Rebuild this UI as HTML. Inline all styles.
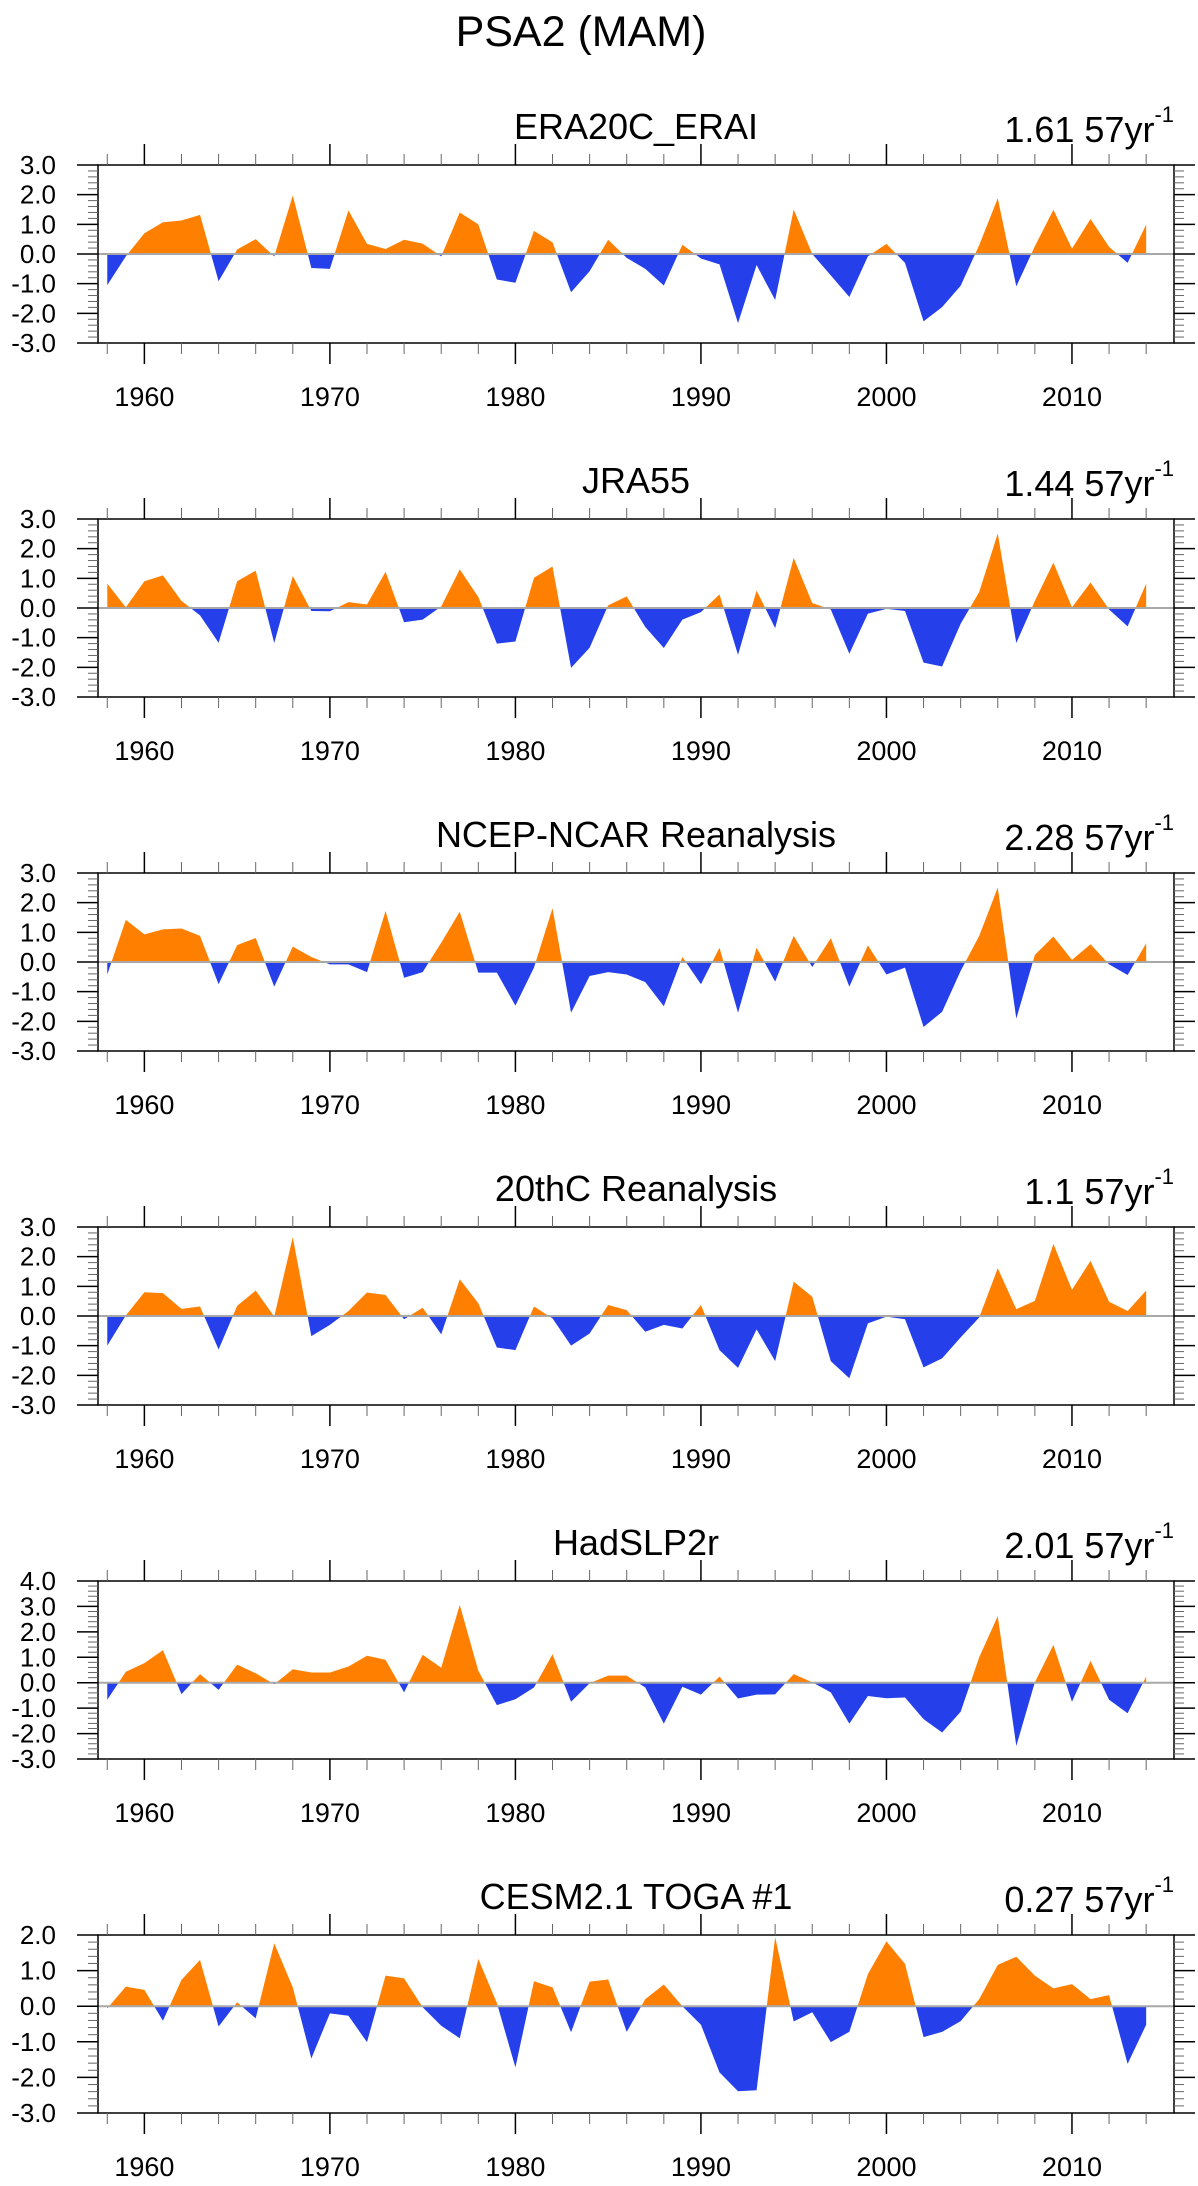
<!DOCTYPE html>
<html><head><meta charset="utf-8">
<style>
html,body{margin:0;padding:0;background:#fff;}
svg{display:block;font-family:"Liberation Sans",sans-serif;}
</style></head>
<body>
<svg id="chart" width="1198" height="2186" viewBox="0 0 1198 2186" xmlns="http://www.w3.org/2000/svg">
<text x="581" y="46" font-size="43" text-anchor="middle">PSA2 (MAM)</text>
</svg>
<script>
const years = [];
for (let y = 1958; y <= 2014; y++) years.push(y);
const panelTitles = ["ERA20C_ERAI","JRA55","NCEP-NCAR Reanalysis","20thC Reanalysis","HadSLP2r","CESM2.1 TOGA #1"];
const panelStats = ["1.61 57yr","1.44 57yr","2.28 57yr","1.1 57yr","2.01 57yr","0.27 57yr"];
const yMins = [-3,-3,-3,-3,-3,-3];
const yMaxs = [3,3,3,3,4,2];
const xTickYears = [1960,1970,1980,1990,2000,2010];
const era20c = [-1.05,-0.08,0.7,1.07,1.13,1.32,-0.92,0.15,0.5,-0.08,1.97,-0.47,-0.5,1.47,0.34,0.17,0.48,0.35,-0.08,1.4,1.0,-0.86,-0.97,0.78,0.39,-1.29,-0.58,0.48,-0.13,-0.5,-1.06,0.31,-0.15,-0.35,-2.33,-0.37,-1.55,1.5,0.0,-0.72,-1.45,-0.08,0.34,-0.3,-2.27,-1.79,-1.07,0.3,1.88,-1.09,0.26,1.49,0.18,1.18,0.24,-0.3,0.99];
const jra55 = [0.82,0.02,0.9,1.1,0.24,-0.25,-1.17,0.9,1.26,-1.18,1.08,-0.1,-0.11,0.2,0.12,1.22,-0.48,-0.39,0.05,1.3,0.37,-1.2,-1.13,1.02,1.4,-2.02,-1.34,0.09,0.39,-0.64,-1.35,-0.39,-0.14,0.46,-1.58,0.59,-0.68,1.69,0.17,-0.05,-1.54,-0.19,-0.03,-0.1,-1.84,-1.97,-0.53,0.54,2.51,-1.18,0.24,1.53,0.02,0.86,-0.05,-0.62,0.82];
const ncep = [-0.42,1.42,0.93,1.1,1.13,0.88,-0.75,0.57,0.81,-0.83,0.52,0.17,-0.08,-0.08,-0.34,1.72,-0.53,-0.34,0.65,1.7,-0.36,-0.36,-1.47,-0.19,1.81,-1.71,-0.47,-0.34,-0.42,-0.68,-1.49,0.17,-0.75,0.48,-1.71,0.48,-0.66,0.88,-0.17,0.8,-0.83,0.56,-0.42,-0.19,-2.19,-1.68,-0.3,0.88,2.51,-1.91,0.24,0.86,0.07,0.6,-0.08,-0.44,0.63];
const c20 = [-1.0,0.02,0.8,0.77,0.24,0.32,-1.13,0.34,0.86,-0.02,2.66,-0.68,-0.3,0.17,0.79,0.71,-0.11,0.28,-0.62,1.24,0.43,-1.06,-1.15,0.32,-0.08,-1.0,-0.59,0.37,0.2,-0.53,-0.3,-0.42,0.37,-1.15,-1.75,-0.45,-1.52,1.16,0.65,-1.52,-2.1,-0.25,-0.02,-0.11,-1.73,-1.43,-0.72,-0.05,1.61,0.23,0.51,2.43,0.88,1.86,0.48,0.17,0.86];
const hadslp = [-0.67,0.43,0.77,1.28,-0.45,0.34,-0.28,0.71,0.37,-0.06,0.53,0.4,0.4,0.64,1.06,0.9,-0.38,1.1,0.59,3.06,0.47,-0.88,-0.65,-0.19,1.12,-0.75,-0.02,0.28,0.28,-0.19,-1.61,-0.16,-0.47,0.24,-0.62,-0.47,-0.46,0.34,0.02,-0.38,-1.61,-0.52,-0.61,-0.58,-1.43,-1.96,-1.14,1.0,2.62,-2.49,0.02,1.49,-0.75,0.86,-0.67,-1.2,0.24];
const cesm = [-0.06,0.55,0.46,-0.41,0.74,1.3,-0.57,0.11,-0.34,1.77,0.53,-1.47,-0.2,-0.27,-1.01,0.86,0.78,-0.03,-0.55,-0.9,1.33,0.09,-1.72,0.7,0.53,-0.73,0.69,0.75,-0.72,0.2,0.61,0.0,-0.52,-1.86,-2.39,-2.36,1.94,-0.43,-0.17,-1.01,-0.72,0.9,1.82,1.19,-0.87,-0.72,-0.42,0.2,1.16,1.39,0.86,0.5,0.62,0.2,0.31,-1.62,-0.52];
const seriesList = [era20c, jra55, ncep, c20, hadslp, cesm];

const NS = "http://www.w3.org/2000/svg";
const svg = document.getElementById("chart");
const FL = 98, FW = 1076, FH = 178, TOP0 = 165, STEP = 354;
const X0 = 1957.5, X1 = 2015.5;
function el(tag, attrs, parent) {
  const e = document.createElementNS(NS, tag);
  for (const k in attrs) e.setAttribute(k, attrs[k]);
  (parent || svg).appendChild(e);
  return e;
}
function xs(yr) { return FL + (yr - X0) / (X1 - X0) * FW; }

seriesList.forEach((vals, p) => {
  const T = TOP0 + p * STEP;
  const ymin = yMins[p], ymax = yMaxs[p];
  const ys = v => T + (ymax - v) / (ymax - ymin) * FH;
  const g = el("g", {});
  
  
  const z = ys(0);
  const cpA = el("clipPath", {id: "ca" + p}, g);
  el("rect", {x: FL, y: T, width: FW, height: z - T}, cpA);
  const cpB = el("clipPath", {id: "cb" + p}, g);
  el("rect", {x: FL, y: z, width: FW, height: T + FH - z}, cpB);
  let d = "M" + xs(years[0]) + "," + z;
  vals.forEach((v, i) => { d += " L" + xs(years[i]).toFixed(2) + "," + ys(v).toFixed(2); });
  d += " L" + xs(years[years.length - 1]) + "," + z + " Z";
  const pos = el("path", {d: d, fill: "#ff8000", "clip-path": "url(#ca" + p + ")"}, g);
  
  
  const neg = el("path", {d: d, fill: "#2540ea", "clip-path": "url(#cb" + p + ")"}, g);
  
  
  const zl = el("line", {x1: FL, x2: FL + FW, y1: z, y2: z, stroke: "#a8a8a8", "stroke-width": 2}, g);
  
  
  const fr = el("rect", {x: FL, y: T, width: FW, height: FH, fill: "none", stroke: "#000", "stroke-width": 1.5}, g);
  
  
  for (let k = Math.round(ymin * 5); k <= Math.round(ymax * 5); k++) {
    const v = k / 5, y = ys(v), major = (k % 5 === 0);
    const L = major ? 21 : 10;
    el("line", {x1: FL - L, x2: FL, y1: y, y2: y, stroke: major ? "#000" : "#666", "stroke-width": major ? 1.5 : 1}, g);
    el("line", {x1: FL + FW, x2: FL + FW + L, y1: y, y2: y, stroke: major ? "#000" : "#666", "stroke-width": major ? 1.5 : 1}, g);
    if (major) {
      const t = el("text", {x: 56, y: y + 9, "font-size": 26, "text-anchor": "end"}, g);
      
      
      t.textContent = v.toFixed(1);
    }
  }
  for (let yr = 1958; yr <= 2014; yr += 2) {
    const x = xs(yr), major = (yr % 10 === 0);
    const L = major ? 21 : 11;
    el("line", {x1: x, x2: x, y1: T - L, y2: T, stroke: major ? "#000" : "#666", "stroke-width": major ? 1.5 : 1}, g);
    el("line", {x1: x, x2: x, y1: T + FH, y2: T + FH + L, stroke: major ? "#000" : "#666", "stroke-width": major ? 1.5 : 1}, g);
  }
  xTickYears.forEach(yr => {
    const t = el("text", {x: xs(yr), y: T + 241, "font-size": 27, "text-anchor": "middle"}, g);
    
    
    t.textContent = yr;
  });
  const tt = el("text", {x: FL + FW / 2, y: T - 26, "font-size": 36, "text-anchor": "middle"}, g);
  
  
  tt.textContent = panelTitles[p];
  const st = el("text", {x: 1174, y: T - 23, "font-size": 36, "text-anchor": "end"}, g);
  
  
  st.textContent = panelStats[p];
  const ts = el("tspan", {"font-size": 22, dy: -20}, st);
  ts.textContent = "-1";
});
</script>
</body></html>
